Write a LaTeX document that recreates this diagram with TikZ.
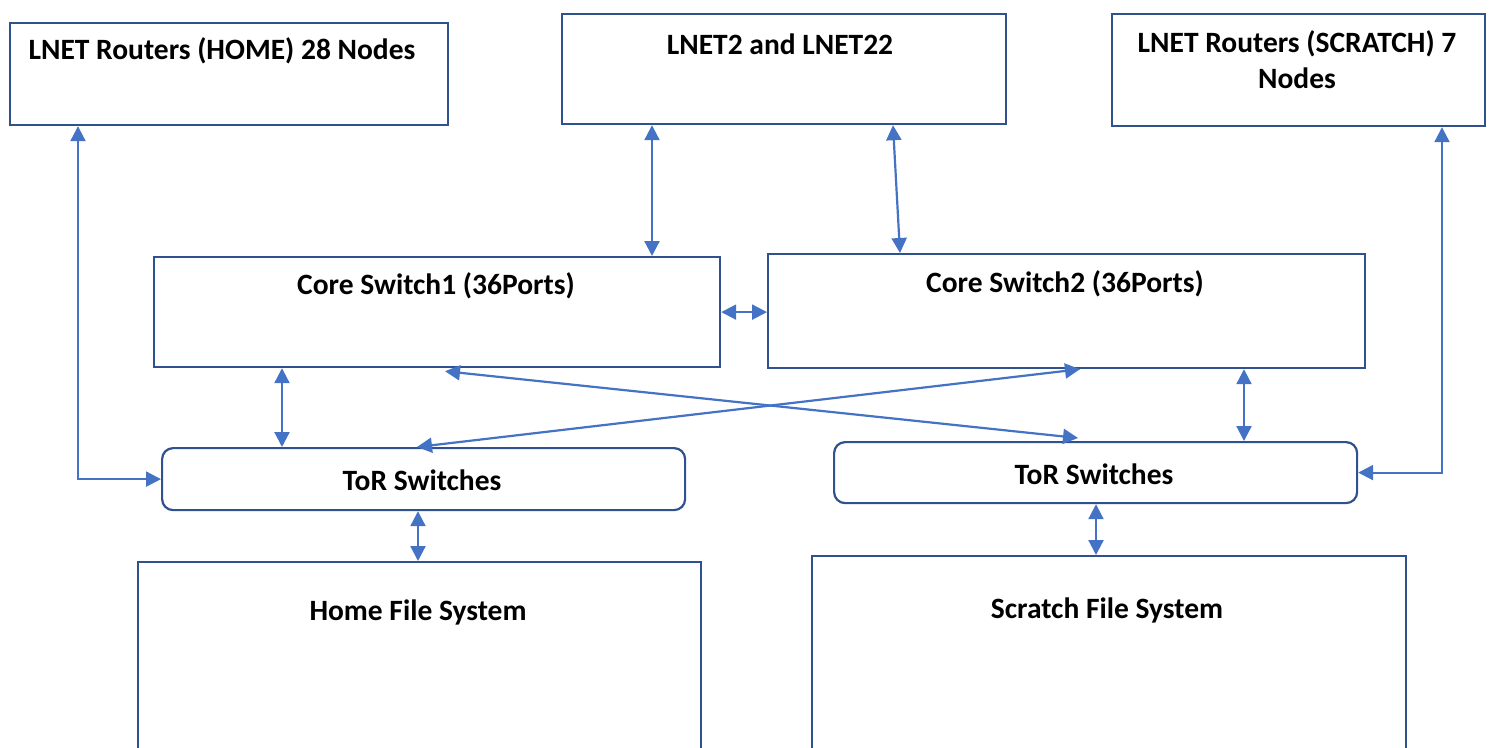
\documentclass[tikz,border=0pt]{standalone}
\usepackage{fontspec}
\setmainfont{Carlito}
\usetikzlibrary{arrows.meta}
\definecolor{boxc}{HTML}{2F528F}
\definecolor{arrc}{HTML}{4472C4}
\tikzset{
  box/.style={draw=boxc, line width=2.2pt, anchor=north west, inner sep=0pt},
  rbox/.style={box, rounded corners=11pt},
  lbl/.style={font=\bfseries\fontsize{29.5}{36}\selectfont, text=black, align=center, inner sep=0pt},
  dbl/.style={draw=arrc, line width=2.2pt, {Triangle[length=15pt,width=15pt]}-{Triangle[length=15pt,width=15pt]}},
}
\begin{document}
\begin{tikzpicture}[x=1pt,y=-1pt]
\useasboundingbox (0,0) rectangle (1491,747);
\clip (0,0) rectangle (1491,747);
% boxes
\node[box, minimum width=438pt, minimum height=102pt] (h) at (9,22) {};
\node[box, minimum width=444pt, minimum height=110pt] (l2) at (561,13) {};
\node[box, minimum width=373pt, minimum height=112pt] (s) at (1111,13) {};
\node[box, minimum width=566pt, minimum height=110pt] (c1) at (153,256) {};
\node[box, minimum width=597pt, minimum height=114pt] (c2) at (767,253) {};
\node[rbox, minimum width=523pt, minimum height=62pt] (t1) at (161,447) {};
\node[rbox, minimum width=523pt, minimum height=61pt] (t2) at (833,441) {};
\node[box, minimum width=563pt, minimum height=210pt] (hf) at (137,561) {};
\node[box, minimum width=594pt, minimum height=215pt] (sf) at (811,555) {};
% labels
\node[lbl] (ht) at (222,51) {LNET Routers (HOME) 28 Nodes};
\node[lbl] (l2t) at (780,44) {LNET2 and LNET22};
\node[lbl] (st) at (1297,60) {LNET Routers (SCRATCH) 7\\Nodes};
\node[lbl] (c1t) at (436,286) {Core Switch1 (36Ports)};
\node[lbl] (c2t) at (1065,284) {Core Switch2 (36Ports)};
\node[lbl] (t1t) at (422,480) {ToR Switches};
\node[lbl] (t2t) at (1094,474) {ToR Switches};
\node[lbl] (hft) at (418,612) {Home File System};
\node[lbl] (sft) at (1107,610) {Scratch File System};
% connectors
\draw[dbl] ([xshift=69pt]h.south west) |- (t1.west);
\draw[dbl] ([xshift=91pt]l2.south west) -- ([xshift=499pt]c1.north west);
\draw[dbl] ([xshift=332pt]l2.south west) -- ([xshift=133pt]c2.north west);
\draw[dbl] (c1.east) -- (c1.east -| c2.west);
\draw[dbl] ([xshift=129pt]c1.south west) -- ([xshift=121pt]t1.north west);
\draw[dbl] ([xshift=477pt]c2.south west) -- ([xshift=411pt]t2.north west);
\draw[dbl] ([xshift=292pt,yshift=-3pt]c1.south west) -- ([xshift=245pt,yshift=3pt]t2.north west);
\draw[dbl] ([xshift=313pt]c2.south west) -- ([xshift=256pt]t1.north west);
\draw[dbl] ([xshift=331pt]s.south west) |- (t2.east);
\draw[dbl] ([xshift=257pt]t1.south west) -- ([xshift=281pt]hf.north west);
\draw[dbl] ([xshift=263pt]t2.south west) -- ([xshift=285pt]sf.north west);
\end{tikzpicture}
\end{document}
